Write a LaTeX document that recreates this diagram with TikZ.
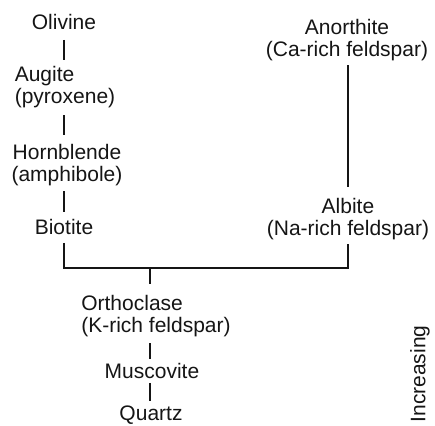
\documentclass[tikz,border=0pt]{standalone}
\usepackage{fontspec}
\setmainfont{Liberation Sans}
\usetikzlibrary{calc}
\definecolor{SeriesInk}{HTML}{151515}

\begin{document}
\begin{tikzpicture}[
  x=1pt,y=-1pt,
  stem/.style={
    line width=1.5pt,
    draw=SeriesInk,
    shorten <=7pt,
    shorten >=7pt
  },
  mineral/.style={
    inner sep=0pt,
    align=center,
    font=\fontsize{21}{22.5}\selectfont,
    text=SeriesInk
  },
  mineralleft/.style={
    mineral,
    align=left
  },
  sidelabel/.style={
    rotate=90,
    inner sep=0pt,
    font=\fontsize{21}{22.5}\selectfont,
    text=SeriesInk
  }
]
\useasboundingbox (0,0) rectangle (435,425);

% -------------------------------------------------
% Discontinuous branch (left column)
% -------------------------------------------------
\node[mineral] (olivine) at (64,22) {Olivine};
\node[mineralleft] (augite) at (65,87) {Augite\\(pyroxene)};
\node[mineral] (hornblende) at (67,165) {Hornblende\\(amphibole)};
\node[mineral] (biotite) at (64,227) {Biotite};

\draw[stem, shorten <=10pt, shorten >=6pt] (olivine.south) -- (olivine.south |- augite.north);
\draw[stem, shorten >=9pt] (olivine.south |- augite.south) -- (olivine.south |- hornblende.north);
\draw[stem, shorten <=5pt] (olivine.south |- hornblende.south) -- (olivine.south |- biotite.north);

% -------------------------------------------------
% Continuous branch (right column)
% -------------------------------------------------
\node[mineral] (anorthite) at (347,40) {Anorthite\\(Ca-rich feldspar)};
\node[mineral] (albite) at (348,219) {Albite\\(Na-rich feldspar)};

\draw[stem, shorten <=4pt, shorten >=11pt] (anorthite.south -| albite.south) -- (albite.north);

% -------------------------------------------------
% Branches meet, then the last minerals
% -------------------------------------------------
\coordinate (join) at (150,268);
\draw[stem, shorten <=8pt, shorten >=4pt] (biotite.south) |- (join) -| (albite.south);

\node[mineralleft] (orthoclase) at (156,316) {Orthoclase\\(K-rich feldspar)};
\node[mineral] (muscovite) at (152,371) {Muscovite};
\node[mineral] (quartz) at (151,415) {Quartz};

\draw[stem, shorten <=0pt, shorten >=11pt] (join) -- (join |- orthoclase.north);
\draw[stem, shorten <=6pt, shorten >=4pt] (join |- orthoclase.south) -- (join |- muscovite.north);
\draw[stem, shorten <=4pt, shorten >=4pt] (join |- muscovite.south) -- (join |- quartz.north);

\node[sidelabel] (increasing) at (420,374) {Increasing};

\end{tikzpicture}
\end{document}
